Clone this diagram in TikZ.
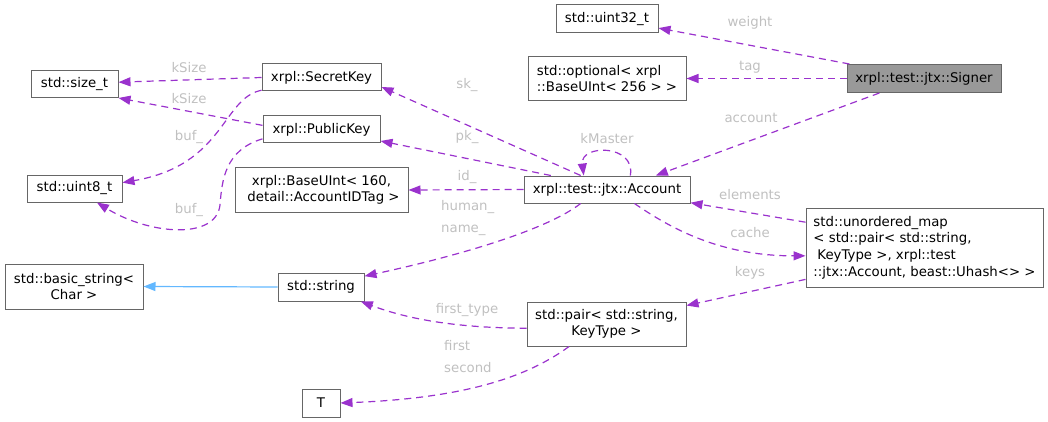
\documentclass[tikz,border=0pt]{standalone}
\usepackage{fontspec}
\setmainfont{DejaVu Sans}
\usetikzlibrary{arrows.meta}
\definecolor{EdgePurple}{HTML}{9A32CD}
\definecolor{InheritBlue}{HTML}{63B8FF}
\definecolor{LabelGray}{HTML}{C0C0C0}
\definecolor{BoxGray}{HTML}{666666}
\definecolor{HereGray}{HTML}{999999}

\begin{document}
\begin{tikzpicture}[x=1pt, y=-1pt,
            classbox/.style={draw=BoxGray, line width=1pt, fill=white, inner sep=0pt, align=center, font=\fontsize{13.3}{16.6}\selectfont},
            herebox/.style={classbox, fill=HereGray},
            usage/.style={draw=EdgePurple, line width=1.2pt, dash pattern=on 7pt off 5pt, -{Triangle[length=12pt,width=9pt]}},
            inherit/.style={draw=InheritBlue, line width=1.2pt, -{Triangle[length=12pt,width=9pt]}},
            edgelabel/.style={text=LabelGray, inner sep=0pt, font=\fontsize{13.3}{16}\selectfont}
        ]
            \useasboundingbox (0,0) rectangle (1048,422);

            % classes
            \node[classbox, minimum width=102, minimum height=28] (uint32) at (607,19) {std::uint32\_t};
            \node[classbox, minimum width=158, minimum height=44, align=left] (optional) at (607,78.5) {std::optional< xrpl\\::BaseUInt< 256 > >};
            \node[herebox, minimum width=154, minimum height=28] (signer) at (924,78.5) {xrpl::test::jtx::Signer};
            \node[classbox, minimum width=87, minimum height=27] (sizet) at (74.5,84.5) {std::size\_t};
            \node[classbox, minimum width=119, minimum height=27] (secret) at (321.5,77.5) {xrpl::SecretKey};
            \node[classbox, minimum width=117, minimum height=27] (public) at (321.5,129.5) {xrpl::PublicKey};
            \node[classbox, minimum width=95, minimum height=27] (uint8) at (74.5,188.5) {std::uint8\_t};
            \node[classbox, minimum width=173, minimum height=44] (baseuint) at (321.5,190) {xrpl::BaseUInt< 160,\\\hspace*{4pt}detail::AccountIDTag >};
            \node[classbox, minimum width=166, minimum height=27] (account) at (607,189.5) {xrpl::test::jtx::Account};
            \node[classbox, minimum width=237, minimum height=79, align=left] (umap) at (924.5,247.5) {std::unordered\_map\\< std::pair< std::string,\\\hspace*{4pt}KeyType >, xrpl::test\\::jtx::Account, beast::Uhash<> >};
            \node[classbox, minimum width=159, minimum height=44] (pair) at (606.5,324) {std::pair< std::string,\\KeyType >};
            \node[classbox, minimum width=138, minimum height=45] (basic) at (74,286.5) {std::basic\_string<\\Char >};
            \node[classbox, minimum width=86, minimum height=28] (string) at (321,287) {std::string};
            \node[classbox, minimum width=38, minimum height=28] (T) at (321,403) {T};

            % members
            \draw[usage] (signer.169) -- (uint32.-10);
            \draw[usage] (signer.west) -- (optional.east);
            \draw[usage] (signer.-162) -- (account.16);
            \draw[usage] (secret.west) -- (sizet.3);
            \draw[usage] (public.176) -- (sizet.-17);
            \draw[usage] (secret.-168) .. controls (222,98) and (225,165) .. (uint8.7);
            \draw[usage] (public.-171) .. controls (225,150) and (222,180) .. (220,205) .. controls (216,240) and (150,235) .. (uint8.-32);
            \draw[usage] (account.152) -- (secret.-9);
            \draw[usage] (account.166) -- (public.-11);
            \draw[usage] (account.31) .. controls (636,144) and (580,144) .. (account.149);
            \draw[usage] (account.west) -- (baseuint.east);
            \draw[usage] (account.-152) .. controls (540,235) and (430,262) .. (string.14);
            \draw[usage] (account.-27) .. controls (670,228) and (720,256) .. (umap.-176);
            \draw[usage] (umap.168) -- (account.-9);
            \draw[usage] (umap.-165) -- (pair.13);
            \draw[usage] (pair.-177) .. controls (460,328) and (410,320) .. (string.-20);
            \draw[usage] (pair.-149) .. controls (530,375) and (470,398) .. (T.east);
            \draw[inherit] (string.west) -- (basic.east);

            % labels
            \node[edgelabel] (lweight) at (750,23) {weight};
            \node[edgelabel] (ltag) at (750,67) {tag};
            \node[edgelabel] (laccount) at (751,118) {account};
            \node[edgelabel] (lksizea) at (189,68) {kSize};
            \node[edgelabel] (lksizeb) at (189,99) {kSize};
            \node[edgelabel] (lbufa) at (189,137) {buf\_};
            \node[edgelabel] (lbufb) at (189,210) {buf\_};
            \node[edgelabel] (lsk) at (467,85) {sk\_};
            \node[edgelabel] (lpk) at (467,137) {pk\_};
            \node[edgelabel] (lkmaster) at (607,139) {kMaster};
            \node[edgelabel] (lid) at (467,177) {id\_};
            \node[edgelabel, anchor=west] (lhuman) at (441,207) {human\_};
            \node[edgelabel, anchor=west] (lname) at (441,230) {name\_};
            \node[edgelabel] (lelements) at (750,195) {elements};
            \node[edgelabel] (lcache) at (750,233) {cache};
            \node[edgelabel] (lkeys) at (750,273) {keys};
            \node[edgelabel] (lfirsttype) at (467,310) {first\_type};
            \node[edgelabel, anchor=west] (lfirst) at (444,346) {first};
            \node[edgelabel, anchor=west] (lsecond) at (444,368) {second};

        \end{tikzpicture}
\end{document}
